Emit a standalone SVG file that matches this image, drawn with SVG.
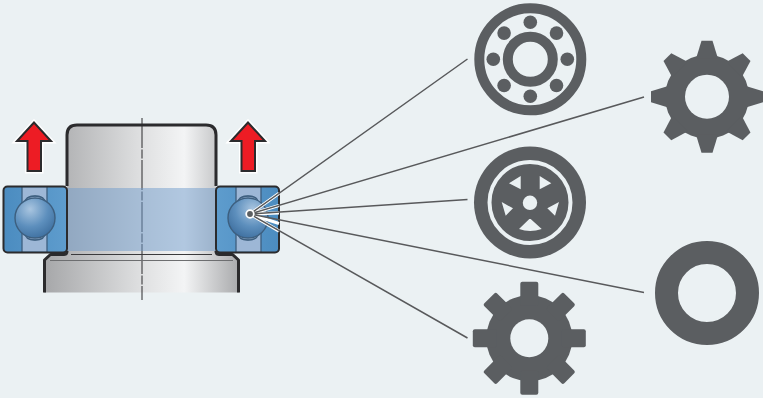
<svg xmlns="http://www.w3.org/2000/svg" width="763" height="398" viewBox="0 0 763 398">
<style>
.ic{fill:#5b5e61}
.bg{fill:#ebf1f3}
.ol{fill:none;stroke:#2b2b2d;stroke-width:3;stroke-linejoin:round}
.conn{fill:none;stroke:#58595b;stroke-width:1.5}
.halo{fill:none;stroke:#fff;stroke-width:3.200}
.edge{fill:none;stroke:#3d5f7f;stroke-width:1.300}
</style>
<defs>
<linearGradient id="shaft" gradientUnits="userSpaceOnUse" x1="44" y1="0" x2="239" y2="0">
<stop offset="0" stop-color="#a6a7a9"/><stop offset=".5" stop-color="#dfe0e1"/><stop offset=".72" stop-color="#f3f4f5"/><stop offset="1" stop-color="#a9aaac"/>
</linearGradient>
<radialGradient id="ball" cx=".38" cy=".28" r=".8">
<stop offset="0" stop-color="#a9c5e0"/><stop offset=".55" stop-color="#5d8fbd"/><stop offset="1" stop-color="#3b6c9c"/>
</radialGradient>
<linearGradient id="ringL" x1="0" y1="0" x2="1" y2="0"><stop offset="0" stop-color="#4b8cc0"/><stop offset="1" stop-color="#5e9ccd"/></linearGradient>
<g id="bearing">
<rect x="3.500" y="186.500" width="63" height="66" rx="4" fill="url(#ringL)"/>
<rect x="22" y="187.500" width="25" height="64" fill="#9db7d6"/>
<path class="edge" d="M22 187V252M47 187V252"/>
<path class="edge" d="M25 203Q25 196 35 196Q45 196 45 203M25 233Q25 240 35 240Q45 240 45 233"/>
<path class="edge" d="M27 198Q35 194 43 198M27 238Q35 242 43 238" opacity=".6"/>
<circle cx="35" cy="218" r="20" fill="url(#ball)" stroke="#3d5f7f" stroke-width="1.400"/>
</g>
<g id="arrow">
<path d="M34 122.500L17 141H27.500V171H41V141H51Z" fill="#ed1c24" stroke="#fff" stroke-width="5"/>
<path d="M34 122.500L17 141H27.500V171H41V141H51Z" fill="#ed1c24" stroke="#2b2b2d" stroke-width="2"/>
</g>
<rect id="tooth1" x="-9" y="-56.500" width="18" height="24" rx="2"/>
<path id="tooth2" d="M-5.500 -56H5.500L11 -38H-11Z"/>
</defs>
<rect width="763" height="398" class="bg"/>
<g id="shaft-part">
<path d="M44 292.500V260L50 254H67V135Q67 125 77 125H206Q216 125 216 135V254H233L239 260V292.500Z" fill="url(#shaft)"/>
<path d="M142 118V300" fill="none" stroke="#2b2b2d" stroke-width="1" stroke-dasharray="30 1.500 9 1.500"/>
<path d="M67 186V135Q67 125 77 125H206Q216 125 216 135V186" class="ol"/>
<path d="M44.500 292.500V260L50.500 254.500H64Q67 254.500 67 251" class="ol"/>
<path d="M238.500 292.500V260L232.500 254.500H219Q216 254.500 216 251" class="ol"/>
<path d="M71 254.500H212" fill="none" stroke="#3a3a3c" stroke-width="1"/>
<path d="M50 260.500H233" fill="none" stroke="#6d6e70" stroke-width="1.200"/>
<rect x="67" y="188" width="149" height="63" fill="#6f9ccb" fill-opacity=".5"/>
</g>
<g id="bearing-left"><use href="#bearing"/><rect x="3.500" y="186.500" width="63.500" height="66" rx="4" fill="none" stroke="#2b2b2d" stroke-width="2"/></g>
<g id="bearing-right"><use href="#bearing" transform="translate(283,0) scale(-1,1)"/><rect x="216" y="186.500" width="63" height="66" rx="4" fill="none" stroke="#2b2b2d" stroke-width="2"/></g>
<g id="arrow-left"><use href="#arrow"/></g>
<g id="arrow-right"><use href="#arrow" x="214"/></g>
<g id="connectors">
<path class="halo" d="M250 214L279 193.400M250 214L279 205.500M250 214L279 212.800M250 214L279 223.500M250 214L279 231"/>
<path class="conn" d="M250 214L467.500 59M250 214L644 97M250 214L467.500 199.500M250 214L644 292.500M250 214L467.500 338"/>
<circle cx="250" cy="214" r="3.800" fill="#5b5e61" stroke="#fff" stroke-width="1.800"/>
</g>
<g id="icon-bearing">
<circle cx="530.300" cy="59.300" r="51" fill="none" stroke="#5b5e61" stroke-width="10"/>
<circle cx="530.300" cy="59.300" r="22.500" fill="none" stroke="#5b5e61" stroke-width="10"/>
<g class="ic">
<circle cx="530.300" cy="22.300" r="6.800"/><circle cx="556.500" cy="33.100" r="6.800"/><circle cx="567.300" cy="59.300" r="6.800"/><circle cx="556.500" cy="85.500" r="6.800"/><circle cx="530.300" cy="96.300" r="6.800"/><circle cx="504.100" cy="85.500" r="6.800"/><circle cx="493.300" cy="59.300" r="6.800"/><circle cx="504.100" cy="33.100" r="6.800"/>
</g>
</g>
<g id="icon-wheel">
<circle cx="530" cy="202.500" r="56" class="ic"/>
<circle cx="530" cy="202.500" r="40.500" fill="none" stroke="#ebf1f3" stroke-width="4"/>
<circle cx="530" cy="202.800" r="7.200" class="bg"/>
<path class="bg" d="M539.700 176L551.300 183.300L539.700 189.300ZM520.700 176L509 183.300L520.700 189.300ZM501.700 202L513 208.300L505.700 215.700ZM559 202L547.300 208.300L555 215.700ZM529.300 219L519 229Q530 233 541.700 229L530.700 219Z"/>
</g>
<g id="icon-gear-left" class="ic" transform="translate(529.300,338.300)">
<circle r="43"/>
<use href="#tooth1"/><use href="#tooth1" transform="rotate(45)"/><use href="#tooth1" transform="rotate(90)"/><use href="#tooth1" transform="rotate(135)"/><use href="#tooth1" transform="rotate(180)"/><use href="#tooth1" transform="rotate(225)"/><use href="#tooth1" transform="rotate(270)"/><use href="#tooth1" transform="rotate(315)"/>
<circle r="19" class="bg"/>
</g>
<g id="icon-gear-right" class="ic" transform="translate(707,96.700)">
<circle r="42"/>
<use href="#tooth2"/><use href="#tooth2" transform="rotate(45)"/><use href="#tooth2" transform="rotate(90)"/><use href="#tooth2" transform="rotate(135)"/><use href="#tooth2" transform="rotate(180)"/><use href="#tooth2" transform="rotate(225)"/><use href="#tooth2" transform="rotate(270)"/><use href="#tooth2" transform="rotate(315)"/>
<circle r="22" class="bg"/>
</g>
<g id="icon-ring">
<circle cx="707" cy="293" r="40.500" fill="none" stroke="#5b5e61" stroke-width="23"/>
</g>
</svg>
